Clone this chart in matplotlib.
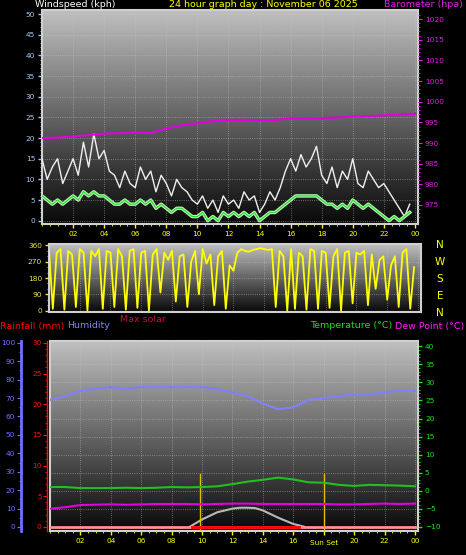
import numpy as np
import matplotlib
matplotlib.use("Agg")
from matplotlib import pyplot as plt

# ---- data ----
hours = np.arange(0, 25)
baro = [991.2, 991.3, 991.6, 991.9, 992.3, 992.4, 992.5, 992.4, 993.5, 994.3, 994.8, 995.3,
        995.6, 995.6, 995.5, 995.6, 996.0, 996.0, 996.0, 996.2, 996.4, 996.5, 996.7, 996.9, 997.1]
humidity = [69, 71, 74, 75, 76, 75, 76, 76, 76, 76, 76, 75, 73, 71, 67, 64, 65, 69, 70, 71, 72, 72, 73, 74, 74]
temperature = [1.0, 1.0, 0.7, 0.7, 0.7, 0.8, 0.7, 0.8, 1.0, 0.9, 1.0, 1.2, 1.8, 2.5, 3.0, 3.6, 3.1, 2.3,
               2.2, 1.6, 1.3, 1.6, 1.5, 1.4, 1.2]
dewpoint = [-5.0, -4.6, -4.0, -3.9, -3.8, -3.9, -3.8, -3.7, -3.7, -3.7, -3.8, -3.7, -3.6, -3.6, -3.7,
            -3.7, -3.7, -3.7, -3.7, -3.8, -3.8, -3.7, -3.6, -3.7, -3.6]
rain = [0.0] * 25

# wind every 20 minutes
wind_t = np.arange(0, 24, 1 / 3)
gust = [15, 10, 13, 15, 9, 12, 15, 11, 19, 13, 21, 15, 17, 12, 11, 8, 12, 9, 8, 13, 10, 12, 7, 11,
        9, 6, 10, 8, 7, 5, 4, 6, 3, 5, 2, 6, 4, 5, 3, 7, 5, 6, 2, 4, 7, 5, 8, 12, 15, 12, 16, 13, 15, 18,
        11, 9, 13, 8, 12, 10, 15, 9, 8, 12, 10, 8, 9, 7, 5, 3, 1, 4]
avg = [6, 5, 4, 5, 4, 5, 6, 5, 7, 6, 7, 6, 6, 5, 4, 4, 5, 4, 4, 5, 4, 5, 3, 4,
       3, 2, 3, 3, 2, 1, 1, 2, 0, 1, 0, 2, 1, 2, 1, 2, 1, 2, 0, 1, 2, 2, 3, 4, 5, 6, 6, 6, 6, 6,
       5, 4, 4, 3, 4, 3, 5, 4, 3, 4, 3, 2, 1, 0, 1, 0, 1, 2]

# wind direction every 15 minutes
dir_t = np.arange(0, 24, 0.25)
direction = [330, 10, 320, 340, 5, 330, 310, 20, 340, 320, 0, 330, 300, 340, 10, 330,
             320, 20, 340, 300, 5, 330, 340, 15, 320, 330, 0, 310, 340, 100, 320, 280,
             330, 50, 300, 310, 20, 270, 330, 90, 340, 260, 310, 30, 300, 330, 10, 250,
             220, 320, 340, 330, 325, 335, 340, 345, 340, 335, 340, 20, 330, 300, 0, 340,
             10, 320, 300, 5, 340, 330, 10, 330, 320, 15, 300, 340, 0, 320, 330, 40, 320,
             310, 330, 30, 310, 120, 280, 300, 60, 250, 300, 20, 320, 340, 10, 240]
direction = direction[:96]

sun_rise, sun_set = 9.85, 18.0
solar_t = [9.2, 10, 11, 12, 12.5, 13, 13.5, 14, 15, 16, 16.7]
solar = [0, 4, 8, 10, 10.5, 10.5, 10.3, 9, 5, 1.5, 0]

hour_ticks = np.arange(2, 25, 2)
hour_labels = ["%02d" % (h % 24) for h in hour_ticks]

W, H = 466, 555
fig = plt.figure(figsize=(W / 100, H / 100), dpi=100, facecolor="black")
plt.rcParams['font.family'] = ['DejaVu Sans']
TS = 5.3   # tick label size
LS = 6.8   # header text size


def px_axes(x0, y0, x1, y1):
    return fig.add_axes([x0 / W, 1 - y1 / H, (x1 - x0) / W, (y1 - y0) / H])


grad = np.linspace(0, 1, 256).reshape(-1, 1)


def style(ax):
    ax.set_facecolor("black")
    ax.imshow(grad, aspect="auto", cmap="gray", vmin=-0.05, vmax=1.35,
              extent=[0, 1, 0, 1], transform=ax.transAxes, zorder=0, origin="lower")
    ax.set_xlim(0, 24.2)
    ax.set_xticks(hour_ticks)
    ax.set_xticks(np.arange(0, 24.2, 0.5), minor=True)
    ax.grid(True, color="#c8c8c8", linestyle=":", linewidth=0.6, alpha=0.6)
    for s in ax.spines.values():
        s.set_color("#d0d0d0")
        s.set_linewidth(1.5)
    ax.tick_params(labelsize=TS, length=3, width=1, pad=2)
    ax.tick_params(which="minor", length=1.5)


def side_axis(ax, lo, hi, major, minor, color, outward, spine_w):
    a = ax.twinx()
    a.set_ylim(lo, hi)
    a.yaxis.tick_left()
    a.spines["left"].set_position(("outward", outward))
    a.spines["left"].set_color(color)
    a.spines["left"].set_linewidth(spine_w)
    for k in ("right", "top", "bottom"):
        a.spines[k].set_visible(False)
    a.set_yticks(major)
    a.set_yticks(minor, minor=True)
    a.tick_params(axis="y", colors=color, labelsize=TS, which="both", length=3, pad=1)
    a.tick_params(axis="y", which="minor", length=1.5)
    return a


# ---- panel 1: wind + barometer ----
ax1 = px_axes(42, 10, 418, 224)
style(ax1)
ax1.set_ylim(-0.8, 51)
ax1.set_yticks(np.arange(0, 51, 5))
ax1.set_yticks(np.arange(0, 51, 1), minor=True)
ax1.tick_params(axis="y", colors="#a8c8f0", which="both")
ax1.tick_params(axis="x", colors="#ffff00", which="both")
ax1.set_xticklabels(hour_labels)
ax1.plot(wind_t, gust, color="#f0f0f0", lw=1.0, zorder=3)
ax1.plot(wind_t, avg, color="#b8f0b8", lw=2.5, zorder=4)
ax1.plot(wind_t, avg, color="#20e020", lw=0.8, zorder=5)
axb = ax1.twinx()
axb.set_ylim(-0.8 + 971.2, 51 + 971.2)
axb.set_yticks(np.arange(975, 1021, 5))
axb.set_yticks(np.arange(972, 1022, 1), minor=True)
axb.tick_params(axis="y", colors="#e020e0", labelsize=TS, which="both", length=3, pad=2)
axb.tick_params(axis="y", which="minor", length=1.5)
axb.plot(hours, baro, color="#e000e0", lw=1.5, zorder=5)
for s in axb.spines.values():
    s.set_visible(False)
fig.text(35 / W, 1 - 0 / H, "Windspeed (kph)", color="white", fontsize=LS, va="top")
fig.text(358 / W, 1 - 0 / H, "24 hour graph day : November 06 2025", color="#ffff00",
         fontsize=LS, va="top", ha="right")
fig.text(463 / W, 1 - 0 / H, "Barometer (hpa)", color="#e020e0", fontsize=LS, va="top", ha="right")

# ---- panel 2: wind direction ----
ax2 = px_axes(49, 244, 421, 312)
style(ax2)
ax2.set_ylim(-8, 368)
ax2.set_yticks([0, 90, 180, 270, 360])
ax2.set_yticks(np.arange(0, 361, 30), minor=True)
ax2.tick_params(axis="y", colors="#e8e840", which="both")
ax2.tick_params(axis="x", labelbottom=False)
ax2.plot(dir_t, direction, color="#ffff00", lw=1.3, zorder=3)
for i, ch in enumerate("NWSEN"):
    fig.text(440 / W, 1 - (245 + i * 17) / H, ch, color="#ffff00", fontsize=7.5,
             ha="center", va="center")

# ---- panel 3: temperature / humidity / rain ----
ax3 = px_axes(50, 341, 418, 531)
style(ax3)
ax3.set_ylim(-11.2, 41.5)
ax3.tick_params(axis="x", colors="#ffff00", which="both")
ax3.set_xticklabels([l if l != "18" else "" for l in hour_labels])
ax3.plot(hours, temperature, color="#20c020", lw=1.5, zorder=5)
ax3.plot(hours, dewpoint, color="#e000e0", lw=1.5, zorder=5)
ax3.plot(solar_t, np.array(solar) * 0.5 - 10, color="#b8b8b8", lw=1.5, zorder=4)
ax3.axvline(sun_rise, ymax=0.3, color="#e0c000", lw=1, zorder=4)
ax3.axvline(sun_set, ymax=0.3, color="#e0c000", lw=1, zorder=4)
ax3.text(sun_set, -13.8, "Sun Set", color="#ffff00", fontsize=TS, ha="center", va="top")

axh = side_axis(ax3, -2.2, 101, np.arange(0, 101, 10), np.arange(0, 101, 5), "#7070ff", 21, 2)
axh.plot(hours, humidity, color="#8080ff", lw=1.5, zorder=5)
axr = side_axis(ax3, -0.66, 30.3, np.arange(0, 31, 5), np.arange(0, 31, 1), "#ff1010", 2, 1)
axr.plot(hours, rain, color="#ff9090", lw=2, zorder=5)
axr.plot([sun_rise - 0.5, 16.4], [0, 0], color="#ff0000", lw=2, zorder=6)

# temperature scale on the right (twinx resets ax3 ticks, so set after)
ax3.yaxis.tick_right()
ax3.set_yticks(np.arange(-10, 41, 5))
ax3.set_yticks(np.arange(-10, 41, 1), minor=True)
ax3.tick_params(axis="y", colors="#20e020", which="both", labelsize=TS, pad=2)

fig.text(0 / W, 1 - 326 / H, "Rainfall (mm)", color="#ff0000", fontsize=LS, va="center")
fig.text(67 / W, 1 - 326 / H, "Humidity", color="#8080ff", fontsize=LS, va="center")
fig.text(120 / W, 1 - 320 / H, "Max solar", color="#c01040", fontsize=LS, va="center")
fig.text(392 / W, 1 - 326 / H, "Temperature (°C)", color="#20e020", fontsize=LS,
         va="center", ha="right")
fig.text(464 / W, 1 - 326 / H, "Dew Point (°C)", color="#ff20ff", fontsize=LS,
         va="center", ha="right")

fig.savefig("out.png", dpi=100, facecolor="black")
